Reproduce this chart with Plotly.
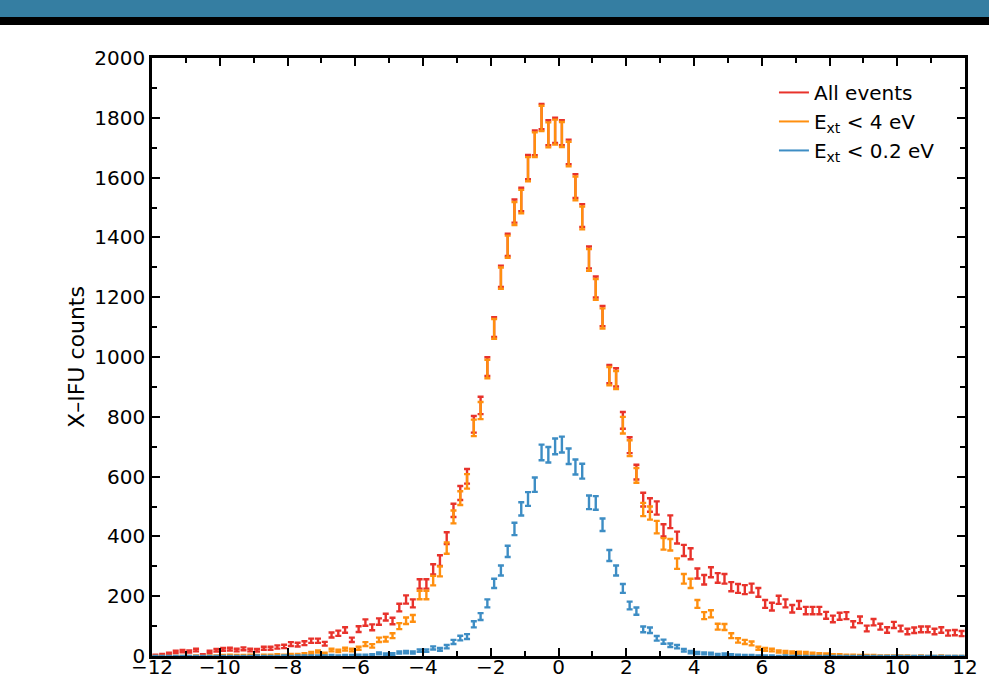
import plotly.graph_objects as go

# Bin centres (0.2 wide bins from -12 to 12)
bin_start = -11.9
bin_width = 0.2
n_bins = 120
x_centres = [round(bin_start + bin_width * i, 1) for i in range(n_bins)]

all_events = [
    3, 5, 8, 14, 16, 15, 20, 4, 14, 19, 22, 23, 20, 24, 20, 19, 26, 26, 30, 32,
    40, 38, 43, 51, 51, 41, 70, 76, 87, 54,
    90, 112, 96, 115, 130, 117, 162, 189, 176, 241, 241, 290, 319, 394, 487, 545, 601,
    775, 838, 968, 1100, 1270, 1375, 1488, 1527, 1635, 1716, 1804, 1750, 1758, 1750,
    1686, 1572, 1473, 1333, 1234, 1137, 943, 932, 788,
    705, 615, 523, 505, 495, 420, 449, 396, 353, 342, 276, 255, 280, 261, 258,
    232, 226, 222, 227, 213, 174, 165, 188, 176, 158, 171, 152, 152, 152, 136,
    124, 133, 135, 106, 121, 92, 113, 98, 87, 104, 92, 82, 86, 89, 89,
    82, 87, 77, 78, 75,
]

ext_lt_4 = [
    0, 0, 0, 0, 0, 0, 1, 0, 1, 1, 2, 3, 2, 2, 3, 2, 3, 3, 4, 3,
    5, 5, 7, 10, 15, 8, 20, 17, 23, 20,
    26, 40, 34, 54, 56, 68, 100, 118, 126, 204, 204, 252, 283, 361, 465, 528, 584,
    763, 821, 960, 1094, 1264, 1369, 1480, 1520, 1628, 1710, 1798, 1743, 1752, 1744,
    1679, 1564, 1465, 1325, 1226, 1129, 936, 923, 772,
    695, 604, 490, 478, 431, 375, 372, 309, 258, 243, 174, 135, 141, 98, 97,
    68, 52, 47, 42, 26, 22, 20, 15, 13, 12, 11, 10, 8, 7, 6,
    4, 4, 3, 3, 2, 2, 2, 1, 1, 1, 1, 1, 0, 1, 0,
    0, 1, 0, 0, 0,
]

ext_lt_02 = [
    0, 0, 0, 0, 0, 0, 0, 0, 0, 0, 0, 0, 0, 0, 0, 1, 0, 0, 0, 1,
    0, 1, 1, 1, 1, 1, 2, 1, 2, 2,
    3, 3, 4, 9, 6, 7, 12, 13, 12, 18, 18, 27, 22, 31, 47, 60, 65,
    106, 132, 176, 243, 286, 350, 425, 492, 525, 573, 681, 673, 701, 707,
    668, 632, 618, 514, 512, 439, 336, 286, 226,
    169, 150, 89, 86, 59, 48, 36, 31, 19, 13, 10, 9, 8, 5, 6,
    4, 3, 2, 2, 1, 1, 1, 0, 1, 0, 0, 0, 0, 0, 0,
    0, 0, 0, 0, 0, 0, 0, 0, 0, 0, 0, 0, 0, 0, 0,
    0, 0, 0, 0, 0,
]

series_names = ["All events", "E<sub>xt</sub> &lt; 4 eV", "E<sub>xt</sub> &lt; 0.2 eV"]
series_values = [all_events, ext_lt_4, ext_lt_02]
series_colors = ["#E8322B", "#FF8F0F", "#3D8DC4"]

x_ticks = list(range(-12, 13, 2))
y_ticks = list(range(0, 2001, 200))

FONT = "DejaVu Sans"

fig = go.Figure()

for name, vals, col in zip(series_names, series_values, series_colors):
    fig.add_trace(go.Scatter(
        x=x_centres, y=vals, mode="markers",
        marker=dict(size=1, color="rgba(0,0,0,0)"),
        error_y=dict(type="sqrt", color=col, thickness=2.4, width=3),
        showlegend=False, hoverinfo="skip",
    ))

for name, col in zip(series_names, series_colors):
    fig.add_trace(go.Scatter(
        x=[None], y=[None], mode="lines", name=name,
        line=dict(color=col, width=2),
    ))

axis_common = dict(
    showline=True, linecolor="black", linewidth=2.5, mirror="ticks",
    ticks="inside", ticklen=8, tickwidth=2, tickcolor="black",
    showgrid=False, zeroline=False, automargin=False,
    tickfont=dict(family=FONT, size=20, color="black"),
)

fig.update_xaxes(
    range=[-12, 12], tickvals=x_ticks, ticklabelstandoff=-9,
    minor=dict(dtick=1, ticks="inside", ticklen=5, tickwidth=2, tickcolor="black"),
    **axis_common,
)
fig.update_yaxes(
    range=[0, 2000], tickvals=y_ticks,
    minor=dict(dtick=100, ticks="inside", ticklen=5, tickwidth=2, tickcolor="black"),
    title=dict(text="X\u2013IFU counts", font=dict(family=FONT, size=22, color="black"), standoff=4),
    **axis_common,
)

L, R, T, B = 152, 24, 58, 26
W, H = 989, 682
pw, ph = W - L - R, H - T - B

fig.update_layout(
    width=W, height=H,
    margin=dict(l=L, r=R, t=T, b=B),
    paper_bgcolor="white", plot_bgcolor="white",
    font=dict(family=FONT, color="black"),
    legend=dict(
        x=0.765, y=0.975, xanchor="left", yanchor="top",
        bgcolor="rgba(0,0,0,0)", font=dict(family=FONT, size=20, color="black"),
        tracegroupgap=0, itemwidth=30,
    ),
    shapes=[
        dict(type="rect", xref="paper", yref="paper",
             x0=-L / pw, x1=(W - L) / pw, y0=1 + (T - 17) / ph, y1=1 + T / ph,
             fillcolor="#357EA2", line=dict(width=0), layer="above"),
        dict(type="rect", xref="paper", yref="paper",
             x0=-L / pw, x1=(W - L) / pw, y0=1 + (T - 25) / ph, y1=1 + (T - 17) / ph,
             fillcolor="black", line=dict(width=0), layer="above"),
    ],
)

fig.write_html("out.html")
